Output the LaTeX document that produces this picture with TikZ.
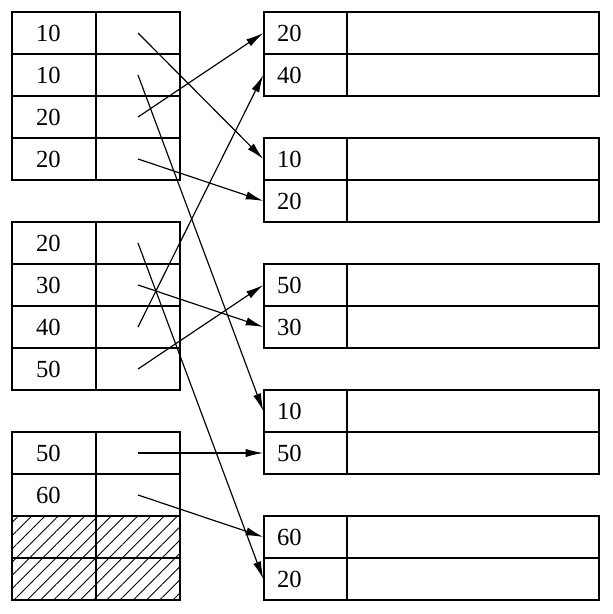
\documentclass[tikz,border=0pt]{standalone}
\usepackage{fontspec}
\setmainfont{Liberation Serif}
\usetikzlibrary{arrows.meta,patterns.meta}

\tikzset{
  cell/.style={draw, line width=1.2pt, minimum height=1.26cm, inner ysep=0pt,
    font=\fontsize{21}{24}\selectfont},
  keyL/.style={cell, minimum width=2.52cm, inner xsep=0.72cm, text width=1.08cm, align=left},
  ptrL/.style={cell, minimum width=2.52cm},
  keyR/.style={cell, minimum width=2.49cm, inner xsep=0.39cm, text width=1.71cm, align=left},
  valR/.style={cell, minimum width=7.56cm},
  hatch/.style={pattern={Lines[angle=45,distance=8pt,line width=0.7pt]}},
  link/.style={line width=1pt, -{Latex[length=15pt,width=7pt]}}
}

\begin{document}
\begin{tikzpicture}[x=0.03cm, y=-0.03cm]
\useasboundingbox (0,0) rectangle (612,614);

% left side: three blocks of four rows
\foreach \i/\y/\v in {1/33/10, 2/75/10, 3/117/20, 4/159/20,
                      5/243/20, 6/285/30, 7/327/40, 8/369/50,
                      9/453/50, 10/495/60}
  {\node[keyL] (k\i) at (54,\y) {\v};
   \node[ptrL] (p\i) at (138,\y) {};}
\node[keyL,hatch] (k11) at (54,537) {};
\node[ptrL,hatch] (p11) at (138,537) {};
\node[keyL,hatch] (k12) at (54,579) {};
\node[ptrL,hatch] (p12) at (138,579) {};

% right side: five blocks of two rows
\foreach \i/\y/\v in {a1/33/20, a2/75/40, b1/159/10, b2/201/20,
                      c1/285/50, c2/327/30, d1/411/10, d2/453/50,
                      e1/537/60, e2/579/20}
  {\node[keyR] (r\i) at (305.5,\y) {\v};
   \node[valR] (v\i) at (473,\y) {};}

% pointers
\draw[link] (p1.center) -- (rb1.west);
\draw[link] (p2.center) -- (rd1.west);
\draw[link] (p3.center) -- (ra1.west);
\draw[link] (p4.center) -- (rb2.west);
\draw[link] (p5.center) -- (re2.west);
\draw[link] (p6.center) -- (rc2.west);
\draw[link] (p7.center) -- (ra2.west);
\draw[link] (p8.center) -- (rc1.west);
\draw[link] (p9.center) -- (rd2.west);
\draw[link] (p10.center) -- (re1.west);

\end{tikzpicture}
\end{document}
